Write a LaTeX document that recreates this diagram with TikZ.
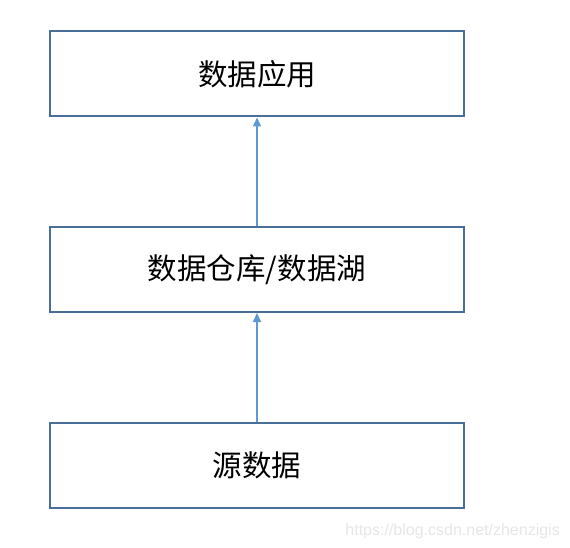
\documentclass[tikz,border=0pt]{standalone}
\usepackage{fontspec}
\setmainfont{Liberation Sans}
\newfontfamily\cjk{Noto Sans CJK SC}
\usetikzlibrary{arrows.meta}
\definecolor{boxedge}{HTML}{4A6E9A}
\definecolor{arrowc}{HTML}{5B9BD5}
\definecolor{wm}{HTML}{E6E6E6}
\begin{document}
\begin{tikzpicture}[x=1pt,y=-1pt,
  layer/.style={draw=boxedge,line width=2pt,minimum width=414pt,minimum height=85pt,inner sep=0pt,font=\cjk\fontsize{29.5}{32}\selectfont},
  flow/.style={draw=arrowc,line width=1.6pt,-{Triangle[length=9pt,width=8pt]}}]
\useasboundingbox (0,0) rectangle (570,548);
\node[layer] (app) at (257,74) {数据应用};
\node[layer] (dw) at (257,269.5) {数据仓库/数据湖};
\node[layer] (src) at (257,465.5) {源数据};
\draw[flow] (dw.north) -- (app.south);
\draw[flow] (src.north) -- (dw.south);
\node[text=wm,font=\fontsize{16}{18}\selectfont,anchor=base east,inner sep=0pt] (mark) at (560,535) {https://blog.csdn.net/zhenzigis};
\end{tikzpicture}
\end{document}
